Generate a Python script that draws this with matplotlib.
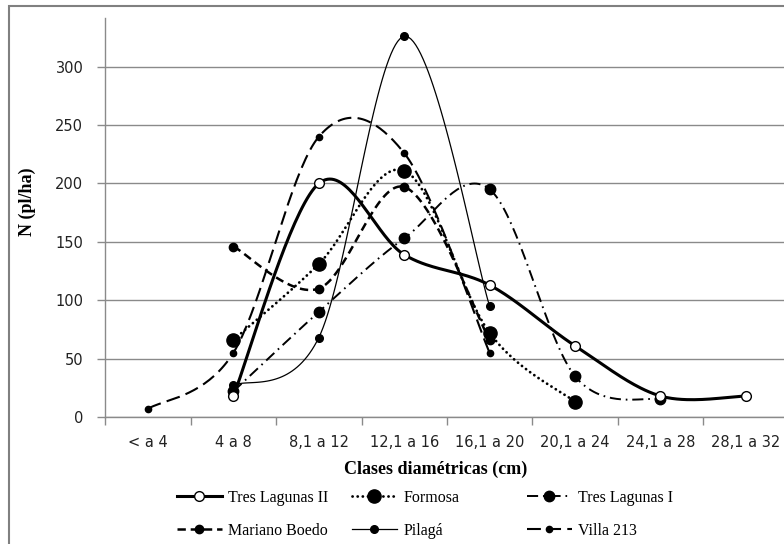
import numpy as np
import matplotlib
matplotlib.use("Agg")
import matplotlib.pyplot as plt
from matplotlib.patches import Rectangle
from matplotlib.lines import Line2D

plt.rcParams['lines.scale_dashes'] = False

categories = ["< a 4", "4 a 8", "8,1 a 12", "12,1 a 16", "16,1 a 20",
              "20,1 a 24", "24,1 a 28", "28,1 a 32"]
nan = np.nan
tres_lagunas_ii = [nan, 18, 200, 139, 113, 61, 18, 18]
formosa = [nan, 66, 131, 211, 72, 13, nan, nan]
tres_lagunas_i = [nan, 22, 90, 153, 195, 35, 15, nan]
mariano_boedo = [nan, 146, 110, 197, 66, nan, nan, nan]
pilaga = [nan, 27, 68, 326, 95, nan, nan, nan]
villa_213 = [7, 55, 240, 226, 55, nan, nan, nan]
y_ticks = [0, 50, 100, 150, 200, 250, 300]


def smooth(xs, ys, n=40):
    pts = np.array([(x, y) for x, y in zip(xs, ys) if not np.isnan(y)], float)
    if len(pts) < 2:
        return pts[:, 0], pts[:, 1]
    out = []
    m = len(pts)
    t = np.linspace(0, 1, n)[:, None]
    for i in range(m - 1):
        p0 = pts[i - 1] if i > 0 else pts[i]
        p1 = pts[i]
        p2 = pts[i + 1]
        p3 = pts[i + 2] if i + 2 < m else pts[i + 1]
        c1 = p1 + (p2 - p0) / 6.0
        c2 = p2 - (p3 - p1) / 6.0
        seg = ((1 - t) ** 3) * p1 + 3 * ((1 - t) ** 2) * t * c1 + 3 * (1 - t) * t ** 2 * c2 + t ** 3 * p2
        if i > 0:
            seg = seg[1:]
        out.append(seg)
    out = np.vstack(out)
    return out[:, 0], out[:, 1]


W, H = 784, 544
fig = plt.figure(figsize=(W / 100, H / 100), dpi=100)
fig.patch.set_facecolor("white")

# outer chart border (partly cut off at right/bottom)
fig.patches.append(Rectangle((8.5 / W, -0.05), 1.2, 1 - 5.5 / H + 0.05,
                             transform=fig.transFigure, fill=False,
                             edgecolor="#808080", lw=1.5, clip_on=False))

ax = fig.add_axes([105.3 / W, 1 - 417 / H, 683.2 / W, (417 - 18) / H])
x = np.arange(len(categories))
ax.set_xlim(-0.5, len(categories) - 0.5)
ax.set_ylim(0, 341.7)

grid_c = "#8a8a8a"
for s in ["top", "right"]:
    ax.spines[s].set_visible(False)
for s in ["left", "bottom"]:
    ax.spines[s].set_color(grid_c)
    ax.spines[s].set_linewidth(1.0)

ax.set_yticks(y_ticks)
ax.set_yticklabels([str(v) for v in y_ticks])
ax.yaxis.grid(True, color=grid_c, lw=1.0)
ax.set_axisbelow(True)
ax.tick_params(axis="y", direction="out", length=5.8, width=1.0, color=grid_c,
               pad=10, labelsize=10.5, labelcolor="#222222")
ax.set_xticks(x)
ax.set_xticklabels(categories)
ax.set_xticks(np.arange(-0.5, len(categories), 1.0), minor=True)
ax.tick_params(axis="x", which="major", length=0, pad=13, labelsize=10.5,
               labelcolor="#222222")
ax.tick_params(axis="x", which="minor", direction="out", length=5.8, width=1.0,
               color=grid_c)
for lab in ax.get_xticklabels() + ax.get_yticklabels():
    lab.set_fontfamily("DejaVu Sans")

series = [
    ("Tres Lagunas II", tres_lagunas_ii,
     dict(color="black", lw=2.2, ls="-", marker="o", ms=7, mfc="white", mec="black", mew=1.0), 6),
    ("Formosa", formosa,
     dict(color="black", lw=2.0, ls=(0, (0.1, 3.6)), dash_capstyle="round",
          marker="o", ms=9.5, mfc="black", mec="black"), 5),
    ("Tres Lagunas I", tres_lagunas_i,
     dict(color="black", lw=1.4, ls=(0, (8, 3.5, 1.2, 3.5)), marker="o", ms=7.5,
          mfc="black", mec="black"), 4),
    ("Mariano Boedo", mariano_boedo,
     dict(color="black", lw=1.8, ls=(0, (6, 3.5)), marker="o", ms=6,
          mfc="black", mec="black"), 3),
    ("Pilagá", pilaga,
     dict(color="black", lw=0.9, ls="-", marker="o", ms=5.5, mfc="black", mec="black"), 2),
    ("Villa 213", villa_213,
     dict(color="black", lw=1.5, ls=(0, (10, 4.5)), marker="o", ms=4.5,
          mfc="black", mec="black"), 1),
]

handles = []
for name, vals, st, z in series:
    vals = np.array(vals, float)
    sx, sy = smooth(x, vals)
    line_kw = {k: v for k, v in st.items() if k not in ("marker", "ms", "mfc", "mec", "mew")}
    ax.plot(sx, sy, zorder=z + 2, clip_on=False, **line_kw)
    ax.plot(x, vals, ls="none", marker=st["marker"], ms=st["ms"], mfc=st["mfc"],
            mec=st["mec"], mew=st.get("mew", 1.0), zorder=z + 10, clip_on=False)
    handles.append(Line2D([], [], **st))

# x and y axis titles
fig.text(436 / W, 1 - 469 / H, "Clases diamétricas (cm)", ha="center", va="center",
         family="Liberation Serif", weight="bold", fontsize=13)
fig.text(27 / W, 1 - 202 / H, "N (pl/ha)", ha="center", va="center", rotation=90,
         family="Liberation Serif", weight="bold", fontsize=13)

# legend entries (Excel-style fixed columns)
pos = [(177, 498), (352, 498), (527, 498), (177, 531), (352, 531), (527, 531)]
for (name, vals, st, z), h, (px, py) in zip(series, handles, pos):
    lg = fig.legend([h], [name], loc="center left",
                    bbox_to_anchor=(px / W, 1 - py / H), frameon=False,
                    borderpad=0, borderaxespad=0, handlelength=2.8,
                    handletextpad=0.4, numpoints=1,
                    prop=dict(family="Liberation Serif", size=11.5))

fig.savefig("out.png", dpi=100)
